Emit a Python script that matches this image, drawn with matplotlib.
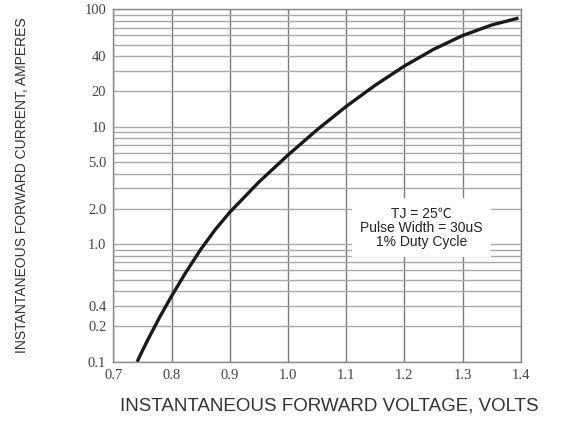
import numpy as np
import matplotlib
matplotlib.use('Agg')
import matplotlib.pyplot as plt
from matplotlib.ticker import FixedLocator, NullFormatter

# curve
voltage = [0.741, 0.75, 0.76, 0.78, 0.8, 0.825, 0.85, 0.875, 0.9, 0.95, 1.0, 1.05,
           1.1, 1.15, 1.2, 1.25, 1.3, 1.35, 1.396]
current = [0.1, 0.124, 0.156, 0.241, 0.361, 0.58, 0.9, 1.33, 1.87, 3.38, 5.74, 9.42,
           14.9, 22.6, 32.9, 45.6, 59.8, 73.6, 84.3]

x_ticks = [0.7, 0.8, 0.9, 1.0, 1.1, 1.2, 1.3, 1.4]
x_tick_labels = ['0.7', '0.8', '0.9', '1.0', '1.1', '1.2', '1.3', '1.4']
# the original sheet labels the 0.3 gridline as "0.4"
y_ticks = [0.1, 0.2, 0.3, 1.0, 2.0, 5.0, 10, 20, 40, 100]
y_tick_labels = ['0.1', '0.2', '0.4', '1.0', '2.0', '5.0', '10', '20', '40', '100']

note = 'TJ = 25\u2103\nPulse Width = 30uS\n1% Duty Cycle'

fig = plt.figure(figsize=(5.78, 4.25), dpi=100)
ax = fig.add_axes([0.196, 0.149, 0.705, 0.829])

ax.set_yscale('log')
ax.set_xlim(0.7, 1.4)
ax.set_ylim(0.1, 100)

# gridlines
minor = [m * d for d in (0.1, 1, 10) for m in range(2, 10)]
ax.yaxis.set_minor_locator(FixedLocator(minor))
ax.yaxis.set_minor_formatter(NullFormatter())
ax.set_yticks(y_ticks)
ax.set_yticklabels(y_tick_labels)
ax.set_xticks(x_ticks)
ax.set_xticklabels(x_tick_labels)
ax.grid(True, which='both', axis='y', color='#a8a8a8', linewidth=1.0)
ax.grid(True, which='major', axis='x', color='#7a7a7a', linewidth=1.0)
ax.tick_params(which='both', length=0, labelsize=10.5, labelcolor='#444444')
ax.tick_params(axis='y', pad=5)
ax.tick_params(axis='x', pad=5)
for lbl in ax.get_xticklabels() + ax.get_yticklabels():
    lbl.set_family('Liberation Serif')
for sp in ax.spines.values():
    sp.set_color('#888888')
    sp.set_linewidth(1.0)

ax.plot(voltage, current, color='#1a1a1a', linewidth=2.4, solid_capstyle='butt',
        solid_joinstyle='round', zorder=3)

ax.text(1.229, 1.38, note, ha='center', va='center', fontsize=10,
        family=['Liberation Sans', 'Noto Sans CJK SC'], color='#222222',
        linespacing=1.0, zorder=4,
        bbox=dict(boxstyle='square,pad=0.6', facecolor='white', edgecolor='none'))

fig.text(0.569, 0.045, 'INSTANTANEOUS FORWARD VOLTAGE, VOLTS', ha='center', va='center',
         fontsize=13.5, family='Liberation Sans', color='#333333')
fig.text(0.038, 0.565, 'INSTANTANEOUS FORWARD CURRENT, AMPERES', ha='center', va='center',
         rotation=90, fontsize=10, family='Liberation Sans', color='#333333')

fig.savefig('out.png', dpi=100)
